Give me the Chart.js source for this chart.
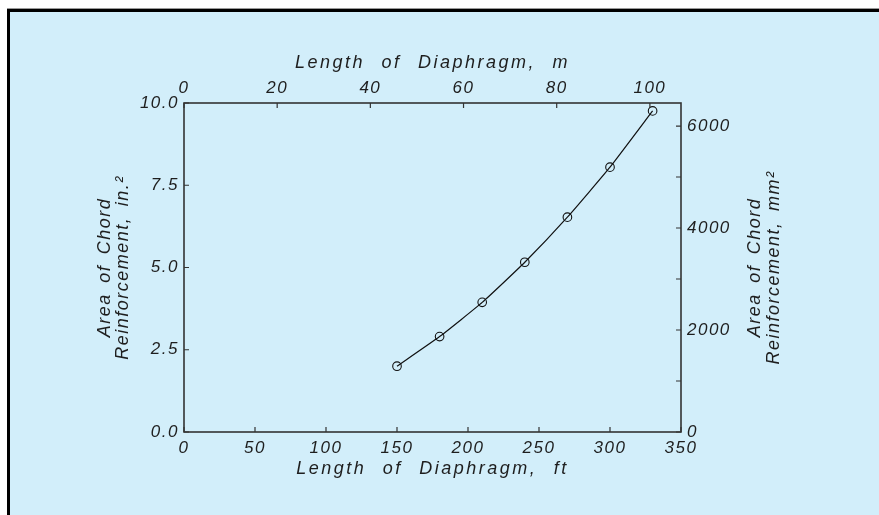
<!DOCTYPE html>
<html>
<head>
<meta charset="utf-8">
<script src="https://cdn.jsdelivr.net/npm/chart.js@4/dist/chart.umd.min.js"></script>
<style>
html,body{margin:0;padding:0;background:#fff;}
#wrap{width:879px;height:515px;}
</style>
</head>
<body>
<div id="wrap"><canvas id="c" width="879" height="515"></canvas></div>
<script>
// ---- data ----
const lengthFt = [150, 180, 210, 240, 270, 300, 330];
const chordAreaIn2 = [2.0, 2.9, 3.94, 5.16, 6.53, 8.05, 9.76];

// ---- tick values / labels ----
const ftTicks = [0, 50, 100, 150, 200, 250, 300, 350];
const mTicks = [0, 20, 40, 60, 80, 100];
const in2Ticks = [0, 2.5, 5, 7.5, 10];
const mm2Ticks = [0, 1000, 2000, 3000, 4000, 5000, 6000];
const mm2Labels = ['0', '', '2000', '', '4000', '', '6000'];

// ---- titles ----
const titleTop = 'Length of Diaphragm, m';
const titleBottom = 'Length of Diaphragm, ft';
const titleLeft = ['Area of Chord', 'Reinforcement, in.\u00B2'];
const titleRight = ['Area of Chord', 'Reinforcement, mm\u00B2'];

const FT_PER_M = 3.28084;
const MM2_PER_IN2 = 645.16;
const FT_MAX = 350, IN2_MAX = 10;

const FONT = 'Liberation Sans';
const INK = '#1e1e1e';

function setTicks(arr) { return s => { s.ticks = arr.map(v => ({ value: v })); }; }

const decorPlugin = {
  id: 'decor',
  beforeDraw(chart) {
    const ctx = chart.ctx;
    ctx.save();
    ctx.fillStyle = '#ffffff';
    ctx.fillRect(0, 0, chart.width, chart.height);
    ctx.fillStyle = '#9a9a9a';
    ctx.fillRect(7, 8, chart.width, 1);
    ctx.fillStyle = '#000000';
    ctx.fillRect(7, 9, chart.width, chart.height);
    ctx.fillStyle = 'rgb(210,238,250)';
    ctx.fillRect(10, 12, chart.width, chart.height);
    ctx.restore();
    ctx.letterSpacing = '1.5px';
  },
  afterDatasetsDraw(chart) {
    const ctx = chart.ctx;
    const a = chart.chartArea;
    const sc = chart.scales;
    ctx.save();
    ctx.strokeStyle = '#333';
    ctx.lineWidth = 1.6;
    ctx.strokeRect(a.left, a.top, a.right - a.left, a.bottom - a.top);
    ctx.lineWidth = 1.2;
    ctx.beginPath();
    const tl = 5;
    sc.x.ticks.forEach(t => { const p = sc.x.getPixelForValue(t.value); ctx.moveTo(p, a.bottom); ctx.lineTo(p, a.bottom - tl); });
    sc.x2.ticks.forEach(t => { const p = sc.x2.getPixelForValue(t.value); ctx.moveTo(p, a.top); ctx.lineTo(p, a.top + tl); });
    sc.y.ticks.forEach(t => { const p = sc.y.getPixelForValue(t.value); ctx.moveTo(a.left, p); ctx.lineTo(a.left + tl, p); });
    sc.y2.ticks.forEach(t => { const p = sc.y2.getPixelForValue(t.value); ctx.moveTo(a.right, p); ctx.lineTo(a.right - tl, p); });
    ctx.stroke();
    ctx.restore();
  },
  afterDraw(chart) {
    const ctx = chart.ctx;
    const a = chart.chartArea;
    const cx = (a.left + a.right) / 2, cy = (a.top + a.bottom) / 2;
    ctx.save();
    ctx.fillStyle = INK;
    ctx.textAlign = 'center';
    ctx.textBaseline = 'middle';
    ctx.font = 'italic 18px "' + FONT + '"';
    ctx.letterSpacing = '2.5px';
    ctx.wordSpacing = '9px';
    ctx.fillText(titleTop, cx, a.top - 40);
    ctx.fillText(titleBottom, cx, a.bottom + 37);
    ctx.letterSpacing = '1.5px';
    ctx.wordSpacing = '4px';
    const drawRot = (lines, xs) => {
      lines.forEach((ln, i) => {
        ctx.save();
        ctx.translate(xs[i], cy);
        ctx.rotate(-Math.PI / 2);
        ctx.fillText(ln, 0, 0);
        ctx.restore();
      });
    };
    drawRot(titleLeft, [a.left - 79, a.left - 61]);
    drawRot(titleRight, [a.right + 74, a.right + 93]);
    ctx.restore();
  }
};

const tickFont = { family: FONT, size: 17, style: 'italic' };

new Chart(document.getElementById('c'), {
  type: 'line',
  data: {
    datasets: [{
      data: lengthFt.map((x, i) => ({ x: x, y: chordAreaIn2[i] })),
      borderColor: '#111',
      borderWidth: 1.2,
      pointRadius: 4.3,
      pointBorderWidth: 1.1,
      pointBackgroundColor: 'rgba(0,0,0,0)',
      pointBorderColor: '#111',
      tension: 0.15,
      fill: false,
      xAxisID: 'x',
      yAxisID: 'y'
    }]
  },
  options: {
    responsive: false,
    animation: false,
    devicePixelRatio: 1,
    layout: { padding: 0 },
    plugins: { legend: { display: false }, tooltip: { enabled: false } },
    scales: {
      x: {
        type: 'linear', position: 'bottom', min: 0, max: FT_MAX,
        afterBuildTicks: setTicks(ftTicks),
        afterFit: s => { s.height = 83; },
        grid: { display: false, drawTicks: false },
        border: { display: false },
        ticks: { font: tickFont, color: INK, padding: 6, maxRotation: 0, autoSkip: false }
      },
      x2: {
        type: 'linear', position: 'top', min: 0, max: FT_MAX / FT_PER_M,
        afterBuildTicks: setTicks(mTicks),
        afterFit: s => { s.height = 103; },
        grid: { display: false, drawTicks: false },
        border: { display: false },
        ticks: { font: tickFont, color: INK, padding: 5, maxRotation: 0, autoSkip: false }
      },
      y: {
        type: 'linear', position: 'left', min: 0, max: IN2_MAX,
        afterBuildTicks: setTicks(in2Ticks),
        afterFit: s => { s.width = 184; },
        grid: { display: false, drawTicks: false },
        border: { display: false },
        ticks: { font: tickFont, color: INK, padding: 5, autoSkip: false,
                 callback: v => Number(v).toFixed(1) }
      },
      y2: {
        type: 'linear', position: 'right', min: 0, max: IN2_MAX * MM2_PER_IN2,
        afterBuildTicks: setTicks(mm2Ticks),
        afterFit: s => { s.width = 198; },
        grid: { display: false, drawTicks: false },
        border: { display: false },
        ticks: { font: tickFont, color: INK, padding: 6, autoSkip: false,
                 callback: (v, i) => mm2Labels[mm2Ticks.indexOf(v)] ?? '' }
      }
    }
  },
  plugins: [decorPlugin]
});
</script>
</body>
</html>
